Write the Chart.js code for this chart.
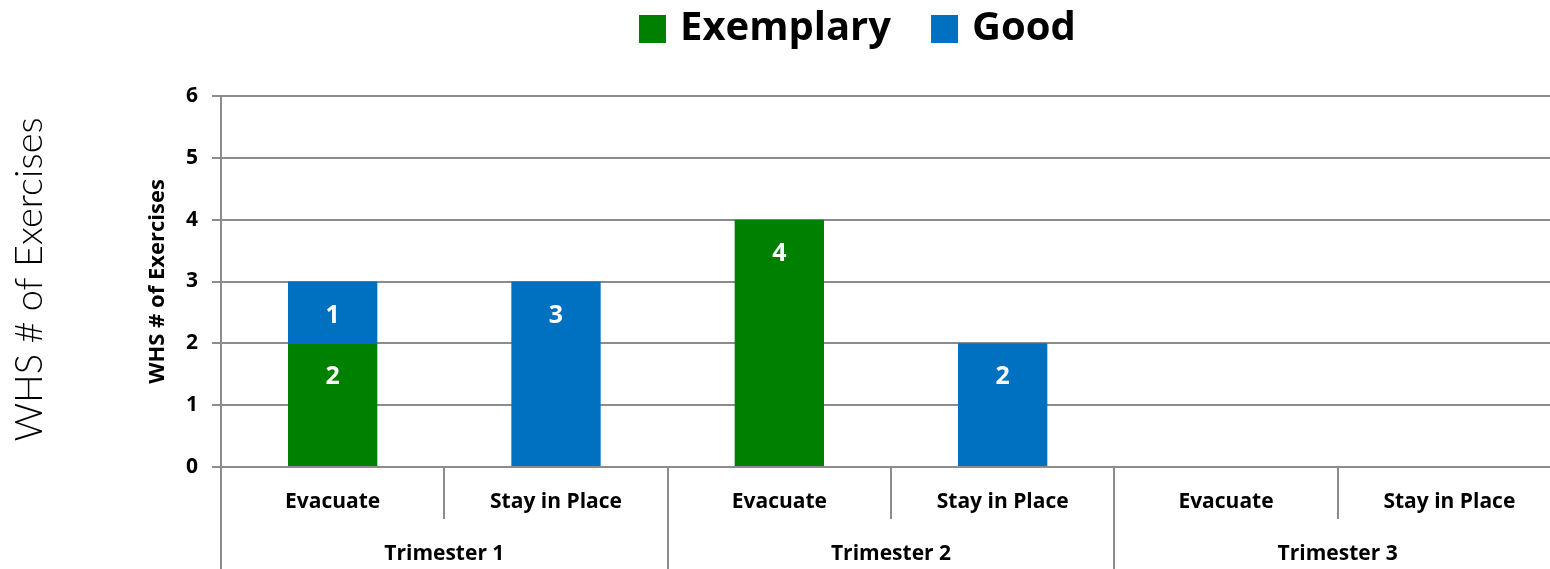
<!DOCTYPE html>
<html>
<head>
<meta charset="utf-8">
<script src="https://cdn.jsdelivr.net/npm/chart.js@4/dist/chart.umd.min.js"></script>
<style>
  html, body { margin: 0; padding: 0; overflow: hidden; background: #fff; }
  #wrap { position: relative; width: 1561px; height: 569px; }
</style>
</head>
<body>
<div id="wrap"><canvas id="c"></canvas></div>
<script>
const categories = ["Evacuate", "Stay in Place", "Evacuate", "Stay in Place", "Evacuate", "Stay in Place"];
const groups = ["Trimester 1", "Trimester 2", "Trimester 3"];
const exemplary = [2, 0, 4, 0, 0, 0];
const good = [1, 3, 0, 2, 0, 0];
const yTicks = [0, 1, 2, 3, 4, 5, 6];
const axisTitle = "WHS # of Exercises";

const FONT = "'Open Sans', Lato, sans-serif";
const LIGHT = "Lato, 'Open Sans', sans-serif";
const GRID = "#8c8c8c";

const overlay = {
  id: "overlay",
  afterDraw(chart) {
    const ctx = chart.ctx;
    const xs = chart.scales.x;
    const area = chart.chartArea;
    const H = chart.height;
    ctx.save();
    // legend
    ctx.textAlign = "left";
    ctx.textBaseline = "middle";
    ctx.font = "bold 40px " + FONT;
    let lx = 639;
    chart.data.datasets.forEach((ds) => {
      ctx.fillStyle = ds.backgroundColor;
      ctx.fillRect(lx, 15, 27, 28);
      lx += 27 + 14;
      ctx.fillStyle = "#000";
      ctx.fillText(ds.label, lx, 29);
      lx += ctx.measureText(ds.label).width + 40;
    });
    // data labels
    ctx.textAlign = "center";
    ctx.fillStyle = "#fff";
    ctx.font = "bold 25px " + FONT;
    chart.data.datasets.forEach((ds, di) => {
      const meta = chart.getDatasetMeta(di);
      meta.data.forEach((el, i) => {
        const v = ds.data[i];
        if (v > 0) ctx.fillText(String(v), el.x, el.y + 34);
      });
    });
    // category labels
    ctx.fillStyle = "#000";
    ctx.font = "bold 21px " + FONT;
    categories.forEach((c, i) => {
      ctx.fillText(c, xs.getPixelForValue(i), area.bottom + 35);
    });
    groups.forEach((g, gi) => {
      const x = (xs.getPixelForValue(gi * 2) + xs.getPixelForValue(gi * 2 + 1)) / 2;
      ctx.fillText(g, x, area.bottom + 87);
    });
    // separators
    ctx.strokeStyle = GRID;
    ctx.lineWidth = 2;
    ctx.beginPath();
    ctx.moveTo(area.left, area.bottom);
    ctx.lineTo(area.left, H);
    for (let i = 0; i < categories.length - 1; i++) {
      const x = Math.round((xs.getPixelForValue(i) + xs.getPixelForValue(i + 1)) / 2);
      ctx.moveTo(x, area.bottom);
      ctx.lineTo(x, (i % 2 === 1) ? H : area.bottom + 52);
    }
    ctx.stroke();
    // axis titles
    const cy = (area.top + area.bottom) / 2;
    ctx.fillStyle = "#000";
    ctx.translate(158, cy);
    ctx.rotate(-Math.PI / 2);
    ctx.font = "bold 22px " + FONT;
    ctx.fillText(axisTitle, 0, 0);
    ctx.setTransform(1, 0, 0, 1, 0, 0);
    ctx.translate(30, cy - 2);
    ctx.rotate(-Math.PI / 2);
    ctx.font = "300 38px " + LIGHT;
    ctx.fillText(axisTitle, 0, 0);
    ctx.restore();
  }
};

new Chart(document.getElementById("c"), {
  type: "bar",
  data: {
    labels: categories,
    datasets: [
      { label: "Exemplary", data: exemplary, backgroundColor: "#008000", categoryPercentage: 1, barPercentage: 0.4 },
      { label: "Good", data: good, backgroundColor: "#0070c0", categoryPercentage: 1, barPercentage: 0.4 }
    ]
  },
  options: {
    responsive: true,
    maintainAspectRatio: false,
    animation: false,
    devicePixelRatio: 1,
    layout: { padding: { top: 96, left: 0, right: 0, bottom: 0 } },
    plugins: {
      legend: { display: false },
      tooltip: { enabled: false }
    },
    scales: {
      x: {
        stacked: true,
        grid: { display: false },
        ticks: { display: false },
        border: { display: false },
        afterFit(s) { s.height = 102; }
      },
      y: {
        stacked: true,
        min: 0, max: 6,
        afterBuildTicks(s) { s.ticks = yTicks.map(v => ({ value: v })); },
        ticks: { stepSize: 1, color: "#000", padding: 14, font: { family: FONT, size: 21, weight: "bold" } },
        grid: { color: GRID, lineWidth: 2, tickLength: 9 },
        border: { color: GRID, width: 2 },
        afterFit(s) { s.width = 221; }
      }
    }
  },
  plugins: [overlay]
});
</script>
</body>
</html>
